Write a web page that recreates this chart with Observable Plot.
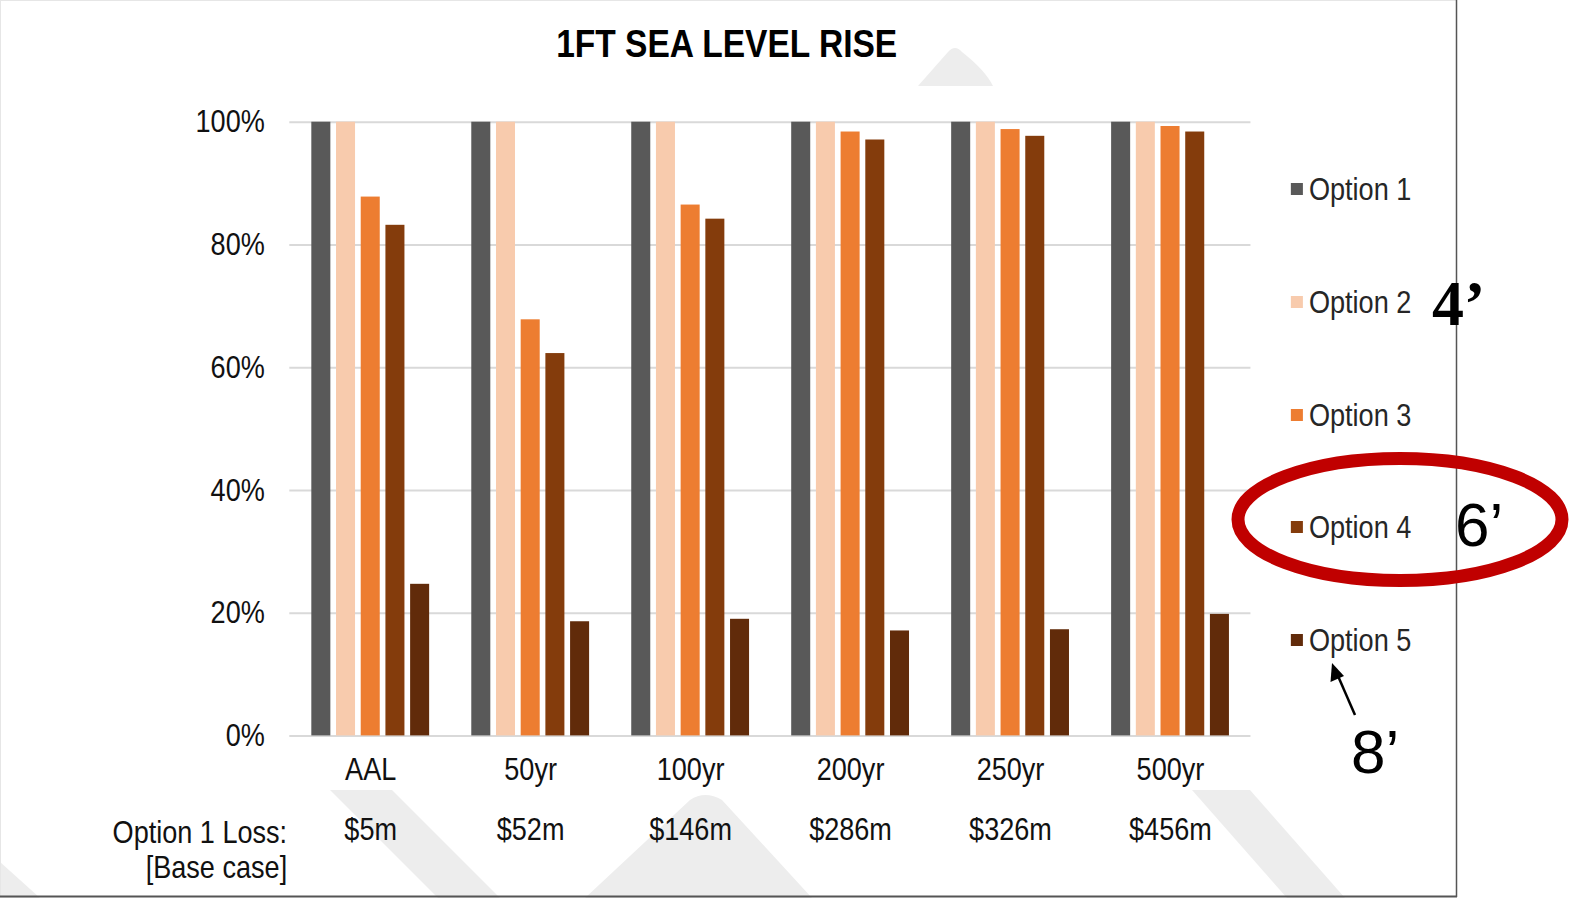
<!DOCTYPE html>
<html>
<head>
<meta charset="utf-8">
<script src="https://cdn.jsdelivr.net/npm/d3@7"></script>
<script src="https://cdn.jsdelivr.net/npm/@observablehq/plot@0.6"></script>
<style>
  html, body { margin: 0; padding: 0; background: #fff; }
  #page { position: relative; width: 1573px; height: 898px; overflow: hidden; background: #fff; }
  #underlay { position: absolute; left: 0; top: 0; }
  #scaled { position: absolute; left: 0; top: 0; width: 1829px; height: 898px; transform: scaleX(0.86); transform-origin: 0 0; font-family: "Liberation Sans", Arial, sans-serif; }
  #scaled svg.plot-chart { position: absolute; left: 0; top: 0; max-width: none; }
  #title { position: absolute; top: 24px; left: 845px; transform: translateX(-50%); font-size: 39px; line-height: 1; font-weight: bold; color: #000; white-space: nowrap; }
  #legend { position: absolute; left: 1501px; top: 0; }
  .li { position: absolute; left: 0; white-space: nowrap; font-size: 31.5px; line-height: 32px; color: #262626; }
  .sw { position: absolute; left: 0; top: 10px; width: 14px; height: 12px; }
  .lt { position: absolute; left: 21px; top: 0; }
  #overlay { position: absolute; left: 0; top: 0; }
</style>
</head>
<body>
<div id="page">
  <svg id="underlay" width="1573" height="898"></svg>
  <div id="scaled">
    <div id="title"></div>
    <div id="chart"></div>
    <div id="legend"></div>
  </div>
  <svg id="overlay" width="1573" height="898"></svg>
</div>
<script>
// ---- data ----
const titleText = "1FT SEA LEVEL RISE";
const categories = ["AAL", "50yr", "100yr", "200yr", "250yr", "500yr"];
const options = ["Option 1", "Option 2", "Option 3", "Option 4", "Option 5"];
const option1 = [100, 100, 100, 100, 100, 100];
const option2 = [100, 100, 100, 100, 100, 100];
const option3 = [87.8, 67.8, 86.5, 98.4, 98.8, 99.3];
const option4 = [83.2, 62.3, 84.2, 97.1, 97.7, 98.4];
const option5 = [24.7, 18.6, 19.0, 17.1, 17.3, 19.8];
const losses = ["$5m", "$52m", "$146m", "$286m", "$326m", "$456m"];
const lossLabel = ["Option 1 Loss:\n[Base case]"];
const yTicks = [0, 20, 40, 60, 80, 100];
const colors = ["#595959", "#f8cbad", "#ed7d31", "#843c0c", "#612b0a"];
const annotations = ["4\u2019", "6\u2019", "8\u2019"];

// ---- build table ----
const seriesValues = [option1, option2, option3, option4, option5];
const rows = [];
options.forEach((opt, i) => {
  categories.forEach((cat, j) => rows.push({cat, option: opt, value: seriesValues[i][j]}));
});
const lossRows = categories.map((cat, j) => ({cat, loss: losses[j]}));

// ---- layout (pre-scale coordinates; page text is condensed horizontally) ----
const W = 1829;
const slot = 28.72;   // distance between neighbouring bars within a group

const marks = [
  Plot.ruleY(yTicks, {stroke: "#d9d9d9", strokeWidth: 2})
];
options.forEach((opt, i) => {
  marks.push(Plot.barY(rows.filter(d => d.option === opt), {
    x: "cat", y: "value", fill: colors[i],
    insetLeft: i * slot, insetRight: (options.length - 1 - i) * slot
  }));
});
marks.push(Plot.text(lossRows, {
  x: "cat", text: "loss", frameAnchor: "bottom", lineAnchor: "top", dy: 82, fill: "#111"
}));
marks.push(Plot.text(lossLabel, {
  text: d => d, frameAnchor: "bottom-left", textAnchor: "end", lineAnchor: "top",
  lineHeight: 1.12, dx: -3, dy: 82, fill: "#111"
}));

const chart = Plot.plot({
  width: W,
  height: 898,
  marginLeft: 336.4,
  marginRight: 375,
  marginTop: 121.7,
  marginBottom: 162.6,
  style: {
    fontFamily: "'Liberation Sans', Arial, sans-serif",
    fontSize: "31.5px",
    color: "#111",
    background: "transparent",
    overflow: "visible"
  },
  x: {domain: categories, paddingInner: 0.2615, paddingOuter: 0.131, tickSize: 0, tickPadding: 22, label: null},
  y: {domain: [0, 100], ticks: yTicks, tickFormat: d => d + "%", tickSize: 0, tickPadding: 29, label: null},
  marks
});
chart.classList.add("plot-chart");
document.getElementById("chart").appendChild(chart);

document.getElementById("title").textContent = titleText;

// ---- legend ----
const legend = document.getElementById("legend");
options.forEach((opt, i) => {
  const item = document.createElement("div");
  item.className = "li";
  item.style.top = (189 + i * 112.75 - 16) + "px";
  const sw = document.createElement("div");
  sw.className = "sw";
  sw.style.background = colors[i];
  const t = document.createElement("div");
  t.className = "lt";
  t.textContent = opt;
  item.appendChild(sw);
  item.appendChild(t);
  legend.appendChild(item);
});

// ---- helpers for decoration (real page coordinates) ----
const NS = "http://www.w3.org/2000/svg";
function el(parent, name, attrs, text) {
  const e = document.createElementNS(NS, name);
  for (const k in attrs) e.setAttribute(k, attrs[k]);
  if (text != null) e.textContent = text;
  parent.appendChild(e);
  return e;
}

// faint background watermark, hidden behind the white chart area
const ul = document.getElementById("underlay");
const wm = "#ededed";
el(ul, "path", {d: "M918,86 L948,52 Q955,44 962,52 Q985,70 993,86 Z", fill: wm});
el(ul, "polygon", {points: "330,790 392,790 500,898 438,898", fill: wm});
el(ul, "path", {d: "M585,898 L690,800 Q705,790 722,800 L812,898 Z", fill: wm});
el(ul, "polygon", {points: "1192,790 1250,790 1345,898 1287,898", fill: wm});
el(ul, "polygon", {points: "0,862 40,898 0,898", fill: wm});

// ---- overlay annotations ----
const ov = document.getElementById("overlay");
el(ov, "line", {x1: 0, y1: 0.5, x2: 1457, y2: 0.5, stroke: "#e6e6e6", "stroke-width": 1});
el(ov, "line", {x1: 0.5, y1: 0, x2: 0.5, y2: 897, stroke: "#e6e6e6", "stroke-width": 1});
el(ov, "line", {x1: 1456.5, y1: 0, x2: 1456.5, y2: 897, stroke: "#555", "stroke-width": 1.5});
el(ov, "line", {x1: 0, y1: 896.5, x2: 1457, y2: 896.5, stroke: "#555", "stroke-width": 2});
el(ov, "text", {x: 1432, y: 325, "font-family": "'Liberation Serif', 'DejaVu Serif', serif", "font-weight": "bold", "font-size": 64, fill: "#000"}, annotations[0]);
el(ov, "text", {x: 1455, y: 546, "font-family": "'Liberation Sans', Arial, sans-serif", "font-size": 62, fill: "#000"}, annotations[1]);
el(ov, "ellipse", {cx: 1400, cy: 519.5, rx: 162, ry: 61, fill: "none", stroke: "#c00000", "stroke-width": 13});
el(ov, "text", {x: 1351, y: 773, "font-family": "'Liberation Sans', Arial, sans-serif", "font-size": 62, fill: "#000"}, annotations[2]);
el(ov, "line", {x1: 1355, y1: 715, x2: 1338, y2: 676, stroke: "#000", "stroke-width": 2.5});
el(ov, "polygon", {points: "1332,663 1330.5,682 1344,676", fill: "#000"});
</script>
</body>
</html>
